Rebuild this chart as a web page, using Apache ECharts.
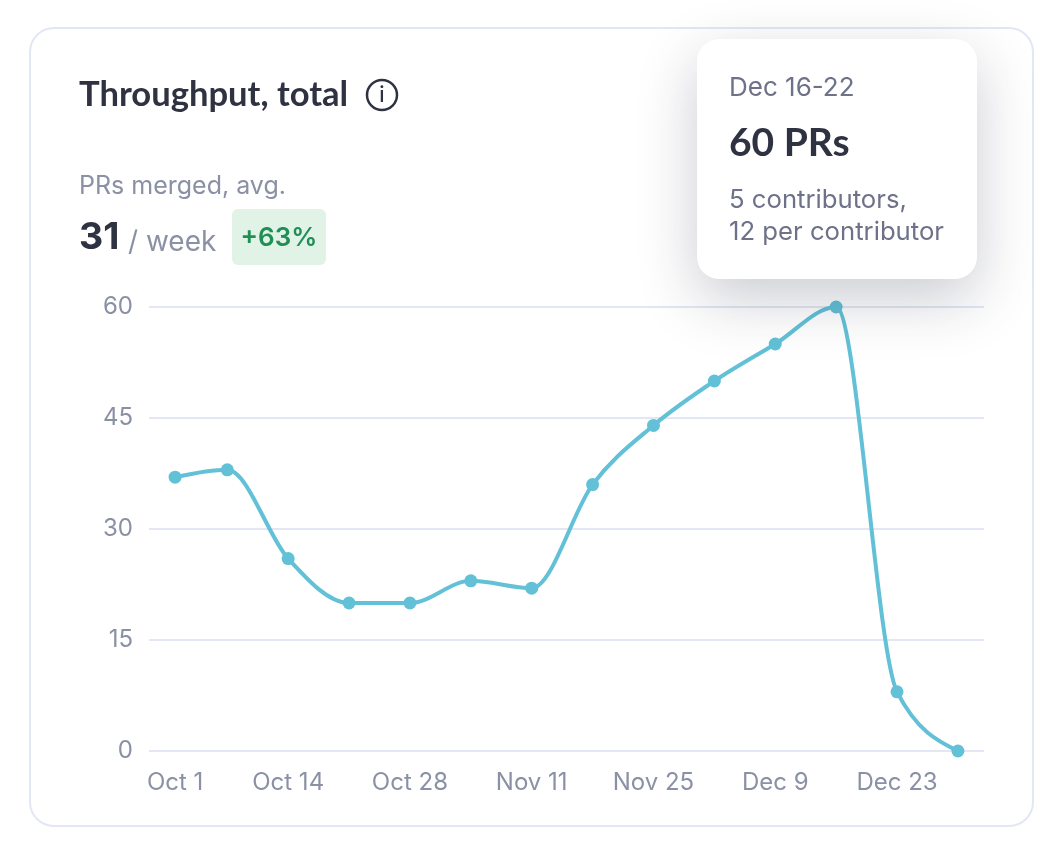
<!DOCTYPE html>
<html><head><meta charset="utf-8">
<style>html,body{margin:0;padding:0;background:#fff}#c{width:1064px;height:842px}</style>
<script src="https://cdn.jsdelivr.net/npm/echarts@6/dist/echarts.min.js"></script>
</head><body><div id="c"></div>
<script>
const weekDates = ['2024-10-01','2024-10-07','2024-10-14','2024-10-21','2024-10-28','2024-11-04','2024-11-11','2024-11-18','2024-11-25','2024-12-02','2024-12-09','2024-12-16','2024-12-23','2024-12-30'];
const prsMerged = [37,38,26,20,20,23,22,36,44,50,55,60,8,0];
const xTickDates = ['2024-10-01','2024-10-14','2024-10-28','2024-11-11','2024-11-25','2024-12-09','2024-12-23'];
const months = ['Jan','Feb','Mar','Apr','May','Jun','Jul','Aug','Sep','Oct','Nov','Dec'];
const ink='#2f3341', grey='#8b91a5', tipGrey='#6d7288', line='#e3e7f5', teal='#62c1d7';
const body='Inter', head='Lato';
const ts = s => new Date(s+'T00:00:00Z').getTime();
const points = weekDates.map((d,i)=>[ts(d),prsMerged[i]]);
const chart = echarts.init(document.getElementById('c'), null, {renderer:'canvas', width:1064, height:842});
const T=(x,y,text,font,size,weight,fill,extra)=>({type:'text',x,y,z:100,style:Object.assign({text,fontFamily:font,fontSize:size,fontWeight:weight,fill,textVerticalAlign:'middle'},extra||{})});

// Monotone-x cubic tangents, computed in pixel space from the axis scales.
function tangents(px){
  const n=px.length, s=[], t=new Array(n);
  for(let i=0;i<n-1;i++) s.push((px[i+1][1]-px[i][1])/(px[i+1][0]-px[i][0]));
  for(let i=1;i<n-1;i++){
    const h0=px[i][0]-px[i-1][0], h1=px[i+1][0]-px[i][0];
    const p=(s[i-1]*h1+s[i]*h0)/(h0+h1);
    t[i]=(Math.sign(s[i-1])+Math.sign(s[i]))*Math.min(Math.abs(s[i-1]),Math.abs(s[i]),0.5*Math.abs(p))||0;
  }
  t[0]=(3*s[0]-t[1])/2;
  t[n-1]=(3*s[n-2]-t[n-2])/2;
  return t;
}
function renderSegment(params, api){
  const i=params.dataIndex;
  if(i>=points.length-1) return null;
  const px=points.map(p=>api.coord(p));
  const t=tangents(px);
  const a=px[i], b=px[i+1], h=(b[0]-a[0])/3;
  return {type:'bezierCurve',
    shape:{x1:a[0],y1:a[1],x2:b[0],y2:b[1],cpx1:a[0]+h,cpy1:a[1]+h*t[i],cpx2:b[0]-h,cpy2:b[1]-h*t[i+1]},
    style:{fill:null,stroke:teal,lineWidth:4,lineCap:'round'}};
}
chart.setOption({
  animation:false,
  backgroundColor:'#fff',
  grid:{left:149,right:80,top:307,bottom:91},
  xAxis:{type:'value',min:ts('2024-09-28'),max:ts('2025-01-02'),
    axisLine:{show:false},axisTick:{show:false},splitLine:{show:false},
    axisLabel:{customValues:xTickDates.map(ts),margin:20,color:grey,fontFamily:body,fontSize:24,hideOverlap:false,showMinLabel:true,showMaxLabel:true,
      formatter:v=>{const d=new Date(v);return months[d.getUTCMonth()]+' '+d.getUTCDate();}}},
  yAxis:{type:'value',min:0,max:60,interval:15,
    axisLine:{show:false},axisTick:{show:false},
    splitLine:{lineStyle:{color:line,width:2}},
    axisLabel:{margin:16,color:grey,fontFamily:body,fontSize:24,lineHeight:26}},
  series:[
    {type:'custom',data:points,encode:{x:0,y:1},renderItem:renderSegment,z:2,silent:true},
    {type:'line',data:points,symbol:'circle',symbolSize:13,showSymbol:true,clip:false,z:3,
      lineStyle:{width:0,opacity:0},itemStyle:{color:teal}}
  ],
  graphic:{elements:[
    {type:'rect',z:-1,shape:{x:30,y:28,width:1003,height:798,r:24},style:{fill:'#fff',stroke:line,lineWidth:2}},
    T(79,95,'Throughput, total',head,34.6,700,ink),
    {type:'circle',z:100,shape:{cx:382,cy:95,r:15},style:{fill:'none',stroke:ink,lineWidth:2.5}},
    T(382,96,'i',body,21,500,ink,{textAlign:'center'}),
    T(79,186,'PRs merged, avg.',body,25,400,grey),
    T(79,238,'31',body,37.5,700,ink),
    T(128,243,'/ week',body,28,400,grey),
    {type:'rect',z:100,shape:{x:232,y:209,width:94,height:56,r:6},style:{fill:'#e1f2e7'}},
    T(279,238,'+63%',body,26,600,'#1f8f55',{textAlign:'center'}),
    {type:'rect',z:100,shape:{x:697,y:39,width:280,height:240,r:22},style:{fill:'#fff',shadowBlur:60,shadowColor:'rgba(30,35,60,0.23)',shadowOffsetY:20}},
    T(729,88,'Dec 16-22',body,26,400,tipGrey),
    T(729,143,'60 PRs',head,39,700,ink),
    T(729,200,'5 contributors,',body,25.7,400,tipGrey),
    T(729,232,'12 per contributor',body,25.7,400,tipGrey)
  ]}
});
</script></body></html>
